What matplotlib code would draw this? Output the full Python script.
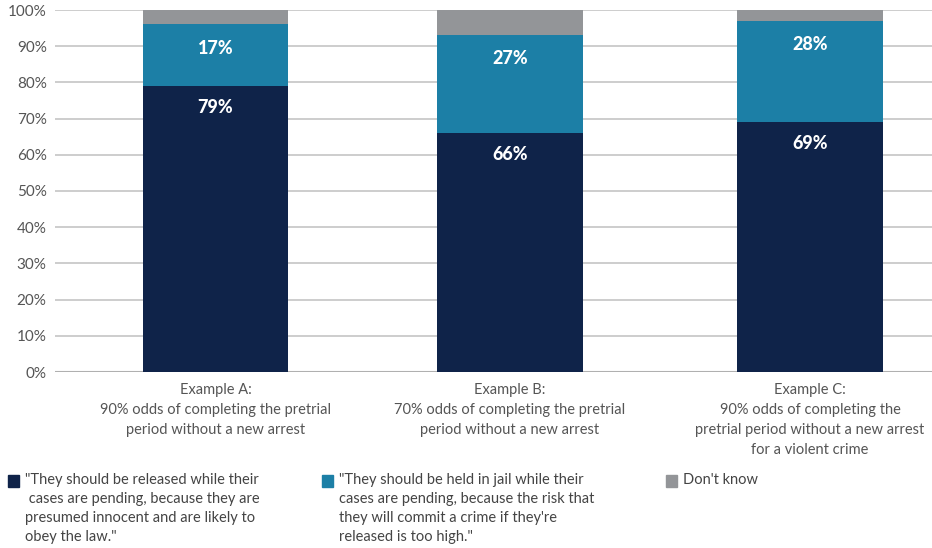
import matplotlib.pyplot as plt
from matplotlib.patches import Rectangle

plt.rcParams['font.family'] = ['Lato', 'DejaVu Sans']

categories = ["Example A:\n90% odds of completing the pretrial\nperiod without a new arrest",
              "Example B:\n70% odds of completing the pretrial\nperiod without a new arrest",
              "Example C:\n90% odds of completing the\npretrial period without a new arrest\nfor a violent crime"]
released = [79, 66, 69]
jailed = [17, 27, 28]
dont_know = [4, 7, 3]

series_labels = ["\"They should be released while their\n cases are pending, because they are\npresumed innocent and are likely to\nobey the law.\"",
                 "\"They should be held in jail while their\ncases are pending, because the risk that\nthey will commit a crime if they're\nreleased is too high.\"",
                 "Don't know"]
colors = ["#0f2349", "#1c7fa6", "#939598"]

W, H = 932, 548
fig = plt.figure(figsize=(W / 100, H / 100), dpi=100)
ax = fig.add_axes([55 / W, 1 - 372 / H, 1 - 55 / W, (372 - 10) / H])

x = [0, 0.99, 2]
width = 0.49
bottom2 = [r + j for r, j in zip(released, jailed)]
ax.bar(x, released, width, color=colors[0], zorder=3)
ax.bar(x, jailed, width, bottom=released, color=colors[1], zorder=3)
ax.bar(x, dont_know, width, bottom=bottom2, color=colors[2], zorder=3)

for i, xi in enumerate(x):
    ax.text(xi, released[i] - 6, f"{released[i]}%", ha='center', va='center',
            color='white', fontsize=13, fontweight='black', zorder=4)
    ax.text(xi, bottom2[i] - 6.5, f"{jailed[i]}%", ha='center', va='center',
            color='white', fontsize=13, fontweight='black', zorder=4)

ax.set_xlim(-0.54, 2.41)
ax.set_ylim(0, 100)
ax.set_yticks(range(0, 101, 10))
ax.set_yticklabels([f"{v}%" for v in range(0, 101, 10)])
ax.yaxis.grid(True, color="#c9c9c9", linewidth=1.3, zorder=0)
for s in ax.spines.values():
    s.set_visible(False)
ax.axhline(0, color="#b0b0b0", linewidth=1.5, zorder=2)
ax.tick_params(axis='y', length=0, labelsize=11, labelcolor="#555555", pad=6)
ax.set_xticks(x)
ax.set_xticklabels(categories, fontsize=10.5, color="#555555", linespacing=1.55)
ax.tick_params(axis='x', length=0, pad=8)

# legend drawn by hand in figure pixels
leg_x = [8, 322, 666]
for lx, lab, c in zip(leg_x, series_labels, colors):
    fig.add_artist(Rectangle((lx / W, 1 - 487 / H), 11 / W, 12 / H,
                             transform=fig.transFigure, color=c))
    fig.text((lx + 17) / W, 1 - 473 / H, lab, ha='left', va='top',
             fontsize=10.5, color="#444444", linespacing=1.45)

fig.savefig("out.png", dpi=100)
